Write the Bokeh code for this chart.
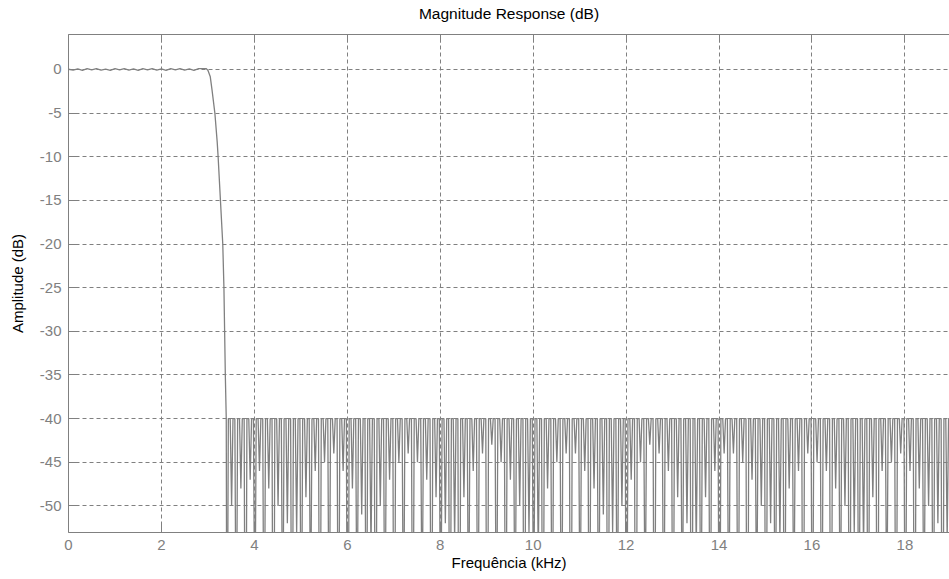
from bokeh.plotting import figure
from bokeh.models import LinearAxis, Range1d, FixedTicker, PrintfTickFormatter
from bokeh.embed import file_html
from bokeh.resources import INLINE

# ---------------- data ----------------
# passband samples (kHz, dB)
pass_f_khz = [0.0, 0.1, 0.2, 0.3, 0.4, 0.5, 0.6, 0.7, 0.8, 0.9,
              1.0, 1.1, 1.2, 1.3, 1.4, 1.5, 1.6, 1.7, 1.8, 1.9,
              2.0, 2.1, 2.2, 2.3, 2.4, 2.5, 2.6, 2.7, 2.8, 2.9]
pass_db = [0.02, -0.08, 0.06, -0.10, 0.08, -0.05, 0.10, -0.09, 0.04, -0.10,
           0.09, -0.06, 0.10, -0.08, 0.05, -0.10, 0.08, -0.04, 0.10, -0.09,
           0.06, -0.10, 0.09, -0.05, 0.10, -0.08, 0.05, -0.10, 0.09, 0.10]

# transition band samples (kHz, dB)
trans_f_khz = [2.96, 3.00, 3.05, 3.09, 3.15, 3.20, 3.22, 3.27, 3.32, 3.345, 3.36, 3.375, 3.395]
trans_db = [0.10, -0.10, -0.8, -2.4, -5.0, -8.3, -10.0, -15.0, -20.0, -25.0, -30.0, -35.0, -40.0]

# stopband: equiripple level and null depths as they appear on screen
stop_ripple_db = -40.0
stop_first_null_khz = 3.41
stop_null_spacing_khz = 0.1
stop_deep_null_db = [-78, -70, -85, -66, -74, -90, -68, -80, -72, -64,
                     -82, -70, -76, -88, -66, -74, -80, -70, -86, -68,
                     -75, -64, -82, -70, -78, -90, -66, -72, -84, -70,
                     -76, -68, -88, -64, -80, -72, -74, -86, -66, -78,
                     -70, -84, -68, -76, -90, -64, -80, -72, -78, -66,
                     -86, -70, -74, -82, -68, -76, -88, -64, -80, -70,
                     -78, -66, -84, -72, -74, -90, -68, -80, -70, -76,
                     -86, -64, -78, -72, -82, -68, -74, -88, -70]
stop_shallow_null_db = [-50, -48, -47, -46, -48, -50, -52, -53, -49, -46,
                        -45, -44, -46, -48, -51, -55, -50, -47, -45, -44,
                        -45, -47, -49, -52, -54, -49, -46, -44, -43, -45,
                        -47, -50, -53, -56, -48, -45, -44, -44, -46, -48,
                        -51, -53, -50, -47, -45, -43, -44, -46, -49, -52,
                        -55, -49, -46, -44, -44, -45, -47, -50, -52, -54,
                        -48, -46, -44, -45, -46, -48, -50, -53, -55, -49,
                        -46, -45, -44, -46, -48, -50, -52, -54, -50]

x_ticks = [0, 2, 4, 6, 8, 10, 12, 14, 16, 18]
y_ticks = [-50, -45, -40, -35, -30, -25, -20, -15, -10, -5, 0]

# ---------------- build the polyline ----------------
nulls = []
for d, s in zip(stop_deep_null_db, stop_shallow_null_db):
    nulls.append(d)
    nulls.append(s)

fx = list(pass_f_khz) + list(trans_f_khz)
fy = list(pass_db) + list(trans_db)
for i, nd in enumerate(nulls):
    x0 = stop_first_null_khz + i * stop_null_spacing_khz
    fx.append(x0)
    fy.append(nd)
    fx.append(x0 + 0.3 * stop_null_spacing_khz)
    fy.append(stop_ripple_db)
    fx.append(x0 + 0.7 * stop_null_spacing_khz)
    fy.append(stop_ripple_db)

# ---------------- figure ----------------
FONT = "Liberation Sans"
GRAY = "#808080"

p = figure(width=949, height=579, output_backend="svg", toolbar_location=None,
           x_range=Range1d(0, 18.96), y_range=Range1d(-53.05, 4.0),
           min_border_left=68, min_border_right=0, min_border_top=34, min_border_bottom=47,
           x_axis_label="Frequência (kHz)", y_axis_label="Amplitude (dB)")
p.outline_line_color = None
p.background_fill_color = "white"
p.border_fill_color = "white"

p.title.text = "Magnitude Response (dB)"
p.title.align = "center"
p.title.text_font = FONT
p.title.text_font_size = "15.5px"
p.title.text_font_style = "normal"
p.title.text_color = "black"
p.title.standoff = 0
p.title.padding = dict(left=0, right=0, top=0, bottom=13)

p.line(fx, fy, line_color=GRAY, line_width=1.3)

for ax, ticks in ((p.xaxis[0], x_ticks), (p.yaxis[0], y_ticks)):
    ax.ticker = FixedTicker(ticks=ticks)
    ax.formatter = PrintfTickFormatter(format="%d")
    ax.axis_line_color = GRAY
    ax.major_tick_line_color = GRAY
    ax.major_tick_in = 8
    ax.major_tick_out = 0
    ax.minor_tick_line_color = None
    ax.major_label_text_font = FONT
    ax.major_label_text_font_size = "15px"
    ax.major_label_text_color = GRAY
    ax.major_label_standoff = 7
    ax.axis_label_text_font = FONT
    ax.axis_label_text_font_size = "15px"
    ax.axis_label_text_font_style = "normal"
    ax.axis_label_text_color = "black"

p.yaxis[0].axis_label_standoff = 11
p.xaxis[0].axis_label_standoff = 1

top_axis = LinearAxis(ticker=FixedTicker(ticks=x_ticks), axis_line_color=GRAY,
                      major_tick_line_color=GRAY, major_tick_in=8, major_tick_out=0,
                      minor_tick_line_color=None, major_label_standoff=0,
                      major_label_overrides={t: "" for t in x_ticks})
p.add_layout(top_axis, "above")

p.xgrid.ticker = FixedTicker(ticks=x_ticks[1:])
p.ygrid.ticker = FixedTicker(ticks=y_ticks)
for g in (p.xgrid[0], p.ygrid[0]):
    g.grid_line_color = GRAY
    g.grid_line_dash = "4 3"
    g.grid_line_width = 1

open("out.html", "w").write(file_html(p, INLINE))
